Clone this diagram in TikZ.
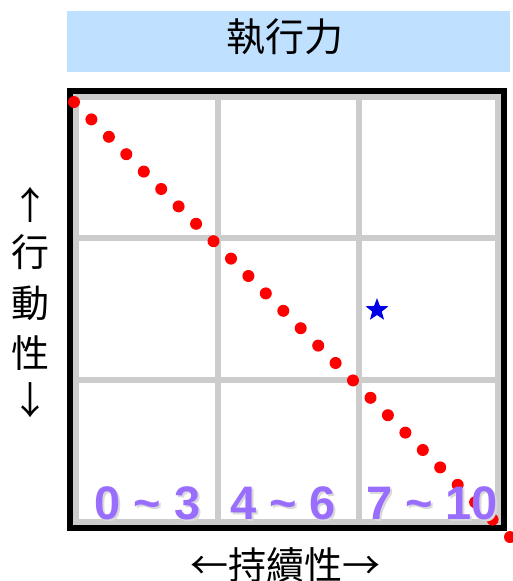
\documentclass[tikz,border=0pt]{standalone}
\usepackage{fontspec}
\setmainfont{Liberation Sans}
\newfontfamily\cjk{Noto Sans CJK TC}
\usetikzlibrary{shapes.geometric}
\definecolor{titleblue}{RGB}{192,224,255}
\definecolor{gridgray}{RGB}{204,204,204}
\definecolor{numpurple}{RGB}{153,110,255}
\definecolor{starblue}{RGB}{0,0,230}
\begin{document}
\begin{tikzpicture}[x=1pt,y=-1pt]
\useasboundingbox (0,0) rectangle (513,581);
\fill[titleblue] (67,11) rectangle (510,72);
\node[font=\cjk\fontsize{39}{39}\selectfont] (title) at (285,37){執行力};
\fill[white] (70,91) rectangle (504,528);
\draw[gridgray, line width=6pt] (76,97) rectangle (498,522);
\draw[gridgray, line width=6pt] (218,97) -- (218,522);
\draw[gridgray, line width=6pt] (359,97) -- (359,522);
\draw[gridgray, line width=6pt] (76,238) -- (498,238);
\draw[gridgray, line width=6pt] (76,380) -- (498,380);
\draw[line width=6pt] (70,91) rectangle (504,528);
\node[circle, minimum size=12pt, inner sep=0pt, fill, red] (dot0) at (74.0,102.0){};
\node[circle, minimum size=12pt, inner sep=0pt, fill, red] (dot1) at (91.4,119.4){};
\node[circle, minimum size=12pt, inner sep=0pt, fill, red] (dot2) at (108.9,136.8){};
\node[circle, minimum size=12pt, inner sep=0pt, fill, red] (dot3) at (126.3,154.2){};
\node[circle, minimum size=12pt, inner sep=0pt, fill, red] (dot4) at (143.8,171.6){};
\node[circle, minimum size=12pt, inner sep=0pt, fill, red] (dot5) at (161.2,189.0){};
\node[circle, minimum size=12pt, inner sep=0pt, fill, red] (dot6) at (178.6,206.4){};
\node[circle, minimum size=12pt, inner sep=0pt, fill, red] (dot7) at (196.1,223.8){};
\node[circle, minimum size=12pt, inner sep=0pt, fill, red] (dot8) at (213.5,241.2){};
\node[circle, minimum size=12pt, inner sep=0pt, fill, red] (dot9) at (231.0,258.6){};
\node[circle, minimum size=12pt, inner sep=0pt, fill, red] (dot10) at (248.4,276.0){};
\node[circle, minimum size=12pt, inner sep=0pt, fill, red] (dot11) at (265.8,293.4){};
\node[circle, minimum size=12pt, inner sep=0pt, fill, red] (dot12) at (283.3,310.8){};
\node[circle, minimum size=12pt, inner sep=0pt, fill, red] (dot13) at (300.7,328.2){};
\node[circle, minimum size=12pt, inner sep=0pt, fill, red] (dot14) at (318.2,345.6){};
\node[circle, minimum size=12pt, inner sep=0pt, fill, red] (dot15) at (335.6,363.0){};
\node[circle, minimum size=12pt, inner sep=0pt, fill, red] (dot16) at (353.0,380.4){};
\node[circle, minimum size=12pt, inner sep=0pt, fill, red] (dot17) at (370.5,397.8){};
\node[circle, minimum size=12pt, inner sep=0pt, fill, red] (dot18) at (387.9,415.2){};
\node[circle, minimum size=12pt, inner sep=0pt, fill, red] (dot19) at (405.4,432.6){};
\node[circle, minimum size=12pt, inner sep=0pt, fill, red] (dot20) at (422.8,450.0){};
\node[circle, minimum size=12pt, inner sep=0pt, fill, red] (dot21) at (440.2,467.4){};
\node[circle, minimum size=12pt, inner sep=0pt, fill, red] (dot22) at (457.7,484.8){};
\node[circle, minimum size=12pt, inner sep=0pt, fill, red] (dot23) at (475.1,502.2){};
\node[circle, minimum size=12pt, inner sep=0pt, fill, red] (dot24) at (492.6,519.6){};
\node[circle, minimum size=12pt, inner sep=0pt, fill, red] (dot25) at (510.0,537.0){};
\node[star, star points=5, star point ratio=2.4, minimum size=24pt, inner sep=0pt, fill, starblue] (mark) at (377,310){};
\node[font=\bfseries\fontsize{47}{47}\selectfont, black!15] (num0s) at (149.5,505){0 \textasciitilde{} 3};
\node[font=\bfseries\fontsize{47}{47}\selectfont, numpurple] (num0) at (147.5,503){0 \textasciitilde{} 3};
\node[font=\bfseries\fontsize{47}{47}\selectfont, black!15] (num1s) at (285,505){4 \textasciitilde{} 6};
\node[font=\bfseries\fontsize{47}{47}\selectfont, numpurple] (num1) at (283,503){4 \textasciitilde{} 6};
\node[font=\bfseries\fontsize{47}{47}\selectfont, black!15] (num2s) at (434,505){7 \textasciitilde{} 10};
\node[font=\bfseries\fontsize{47}{47}\selectfont, numpurple] (num2) at (432,503){7 \textasciitilde{} 10};
\node[font=\cjk\fontsize{38}{38}\selectfont] (up) at (31,205){↑};
\node[font=\cjk\fontsize{38}{38}\selectfont] (xing) at (31,252){行};
\node[font=\cjk\fontsize{38}{38}\selectfont] (dong) at (31,303){動};
\node[font=\cjk\fontsize{38}{38}\selectfont] (xingb) at (31,353){性};
\node[font=\cjk\fontsize{38}{38}\selectfont] (down) at (31,400){↓};
\node[font=\cjk\fontsize{38}{38}\selectfont] (xlabel) at (285,565){←持續性→};
\end{tikzpicture}
\end{document}
